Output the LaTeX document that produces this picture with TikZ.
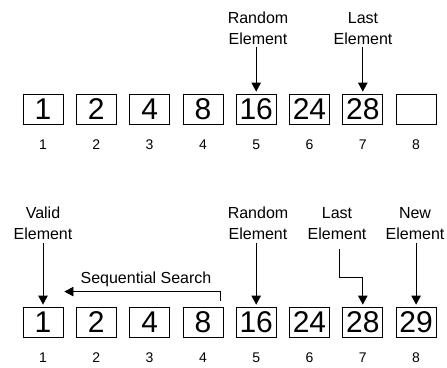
\documentclass[tikz,border=0pt]{standalone}
\usepackage{fontspec}
\setmainfont{Liberation Sans}
\usetikzlibrary{arrows.meta}
\begin{document}
\begin{tikzpicture}[x=1pt,y=-1pt,
  cell/.style={draw, line width=0.8pt, minimum width=40pt, minimum height=30pt,
    inner sep=0pt, font=\fontsize{30}{30}\selectfont},
  idx/.style={inner sep=0pt, font=\fontsize{14}{14}\selectfont},
  lbl/.style={align=center, inner sep=0pt, font=\fontsize{16}{21}\selectfont},
  ptr/.style={line width=0.8pt, -{Triangle[width=9.5pt,length=9pt]}, shorten >=2pt},
]
\useasboundingbox (0,0) rectangle (447,367);

% upper array: seven values and one free slot
\foreach \v [count=\i] in {1,2,4,8,16,24,28,{}} {
  \node[cell] (t\i) at ({43+53.3*(\i-1)},109) {\v};
  \node[idx] (ti\i) at ({43+53.3*(\i-1)},145) {\i};
}

% lower array: the new value appended
\foreach \v [count=\i] in {1,2,4,8,16,24,28,29} {
  \node[cell] (b\i) at ({43+53.3*(\i-1)},322) {\v};
  \node[idx] (bi\i) at ({43+53.3*(\i-1)},358) {\i};
}

% pointers into the upper array
\node[lbl, anchor=south] (randT) at (258,44.5) {Random\\Element};
\node[lbl, anchor=south] (lastT) at (363,44.5) {Last\\Element};
\draw[ptr, shorten <=2pt] (randT.south -| t5.north) -- (t5.north);
\draw[ptr, shorten <=2pt] (lastT.south -| t7.north) -- (t7.north);

% pointers into the lower array
\node[lbl, anchor=south] (validB) at (43,240) {Valid\\Element};
\node[lbl, anchor=south] (randB) at (258,240) {Random\\Element};
\node[lbl, anchor=south] (lastB) at (337,240) {Last\\Element};
\node[lbl, anchor=south] (newB) at (415,240) {New\\Element};
\draw[ptr, shorten <=3pt] (validB.south -| b1.north) -- (b1.north);
\draw[ptr, shorten <=3pt] (randB.south -| b5.north) -- (b5.north);
\draw[ptr, shorten <=3pt] (newB.south -| b8.north) -- (b8.north);
\coordinate (lastbend) at ([yshift=29pt]b7.north);
\draw[ptr, shorten <=9pt] ([xshift=2pt]lastB.south) |- (lastbend) -- (b7.north);

% sequential search back towards the first element
\node[lbl, anchor=base] (seq) at (146,283) {Sequential Search};
\draw[ptr, shorten >=0pt] ([xshift=-2.5pt,yshift=6pt]b4.north east)
  |- ([xshift=1pt,yshift=15pt]b1.north east);
\end{tikzpicture}
\end{document}
